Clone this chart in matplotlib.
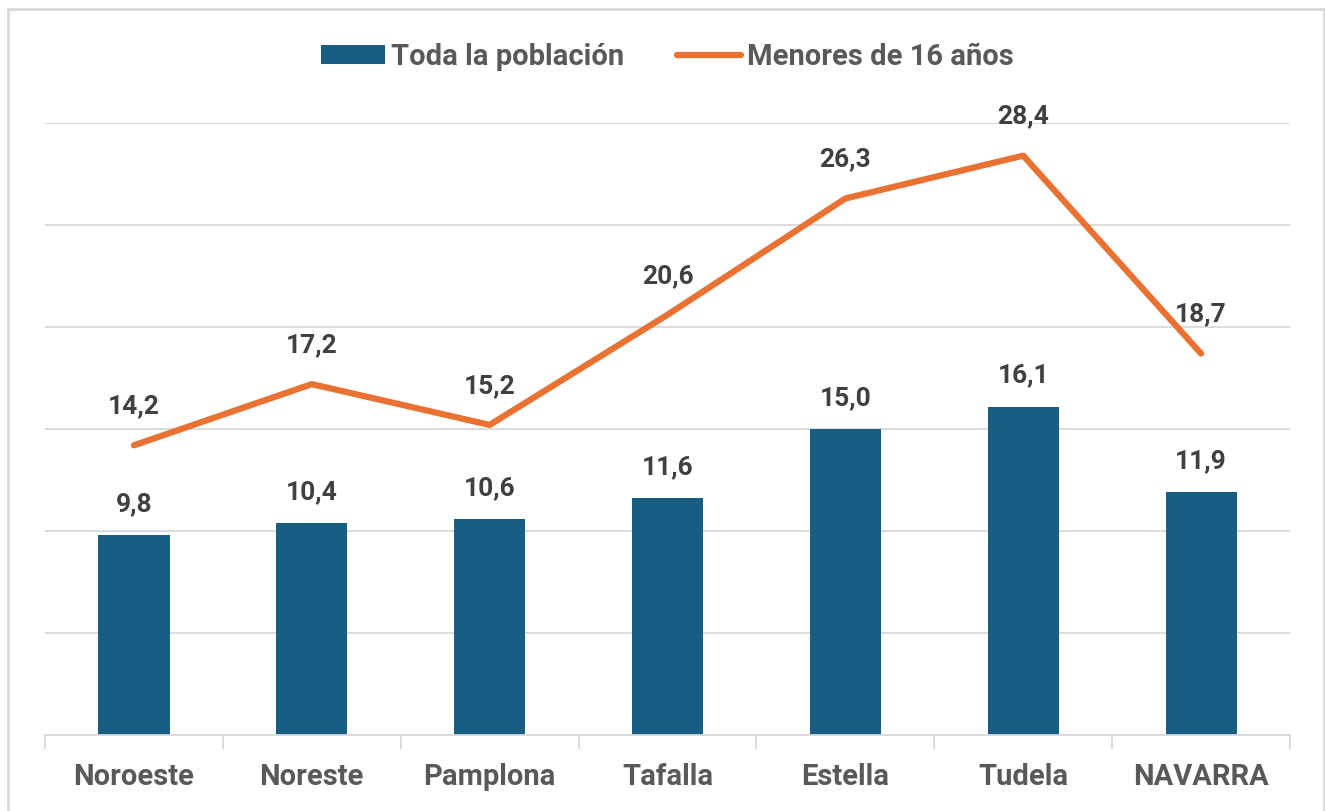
import matplotlib
matplotlib.use("Agg")
import matplotlib.pyplot as plt
from matplotlib.patches import Rectangle

categories = ["Noroeste", "Noreste", "Pamplona", "Tafalla", "Estella", "Tudela", "NAVARRA"]
toda = [9.8, 10.4, 10.6, 11.6, 15.0, 16.1, 11.9]
menores = [14.2, 17.2, 15.2, 20.6, 26.3, 28.4, 18.7]
yticks = [0, 5, 10, 15, 20, 25, 30]

BAR = "#175E82"
LINE = "#E97132"
LAB = "#404040"
TICK = "#595959"
GRID = "#D9D9D9"

plt.rcParams['font.family'] = ['Roboto', 'DejaVu Sans']
plt.rcParams['font.weight'] = 'bold'

W, H = 1325, 811
fig = plt.figure(figsize=(W / 100, H / 100), dpi=100)
ax = fig.add_axes([45 / W, 1 - 735 / H, (1290 - 45) / W, (735 - 123) / H])

x = list(range(len(categories)))
bars = ax.bar(x, toda, width=0.4, color=BAR, label="Toda la población", zorder=2)
line, = ax.plot(x, menores, color=LINE, lw=4.5, solid_capstyle='round', label="Menores de 16 años", zorder=3)

for xi, v in zip(x, toda):
    ax.annotate(f"{v:.1f}".replace(".", ","), (xi, v), xytext=(0, 31), textcoords="offset pixels",
                ha="center", va="center", fontsize=19, fontweight="bold", color=LAB)
for xi, v in zip(x, menores):
    ax.annotate(f"{v:.1f}".replace(".", ","), (xi, v), xytext=(0, 39), textcoords="offset pixels",
                ha="center", va="center", fontsize=19, fontweight="bold", color=LAB)

ax.set_xlim(-0.5, len(categories) - 0.5)
ax.set_ylim(0, 30)
ax.set_yticks(yticks)
ax.yaxis.grid(True, color=GRID, lw=1.3)
ax.set_axisbelow(True)
ax.tick_params(axis='y', left=False, labelleft=False)
for s in ["top", "right", "left"]:
    ax.spines[s].set_visible(False)
ax.spines["bottom"].set_color(GRID)
ax.spines["bottom"].set_linewidth(1.3)

ax.set_xticks(x)
ax.set_xticklabels(categories, fontsize=21, fontweight="bold", color=TICK)
ax.tick_params(axis='x', which='major', length=0, pad=20)
ax.set_xticks([i - 0.5 for i in range(len(categories) + 1)], minor=True)
ax.tick_params(axis='x', which='minor', length=10, width=1.3, color=GRID)

leg = ax.legend([bars, line], ["Toda la población", "Menores de 16 años"],
                loc="center", bbox_to_anchor=(0.5, (H - 57 - (H - 735)) / (735 - 123)),
                ncol=2, frameon=False, handlelength=2.2, handleheight=0.6,
                handletextpad=0.2, columnspacing=1.8, prop={'weight': 'bold', 'size': 21})
for t in leg.get_texts():
    t.set_color(TICK)

fig.patches.append(Rectangle((8 / W, -0.01), (1324 - 8) / W, (H - 9) / H + 0.01,
                             transform=fig.transFigure, fill=False, edgecolor="#D9D9D9", lw=2))

fig.savefig("out.png", dpi=100)
